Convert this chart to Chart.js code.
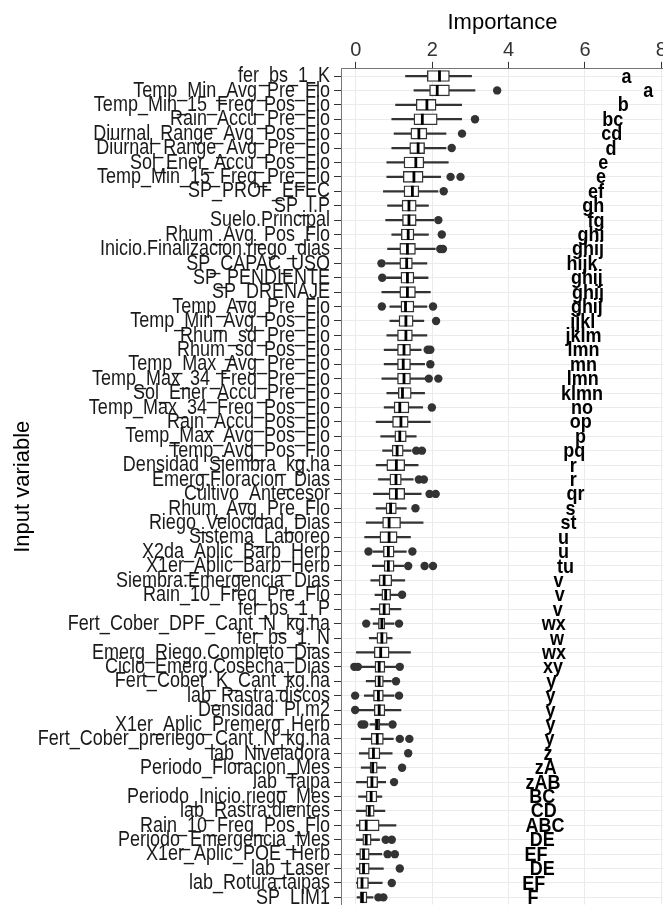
<!DOCTYPE html>
<html>
<head>
<meta charset="utf-8">
<script src="https://cdn.jsdelivr.net/npm/chart.js@4.4.1/dist/chart.umd.min.js"></script>
<style>
  html, body { margin: 0; padding: 0; background: #ffffff; overflow: hidden; }
  #wrap { width: 680px; height: 920px; }
</style>
</head>
<body>
<div id="wrap"><canvas id="chart" width="680" height="920"></canvas></div>
<script>
// Input variables, ordered by median importance (top to bottom)
const variables = [
  'fer_bs_1_K', 'Temp_Min_Avg_Pre_Flo', 'Temp_Min_15_Freq_Pos_Flo', 'Rain_Accu_Pre_Flo',
  'Diurnal_Range_Avg_Pos_Flo', 'Diurnal_Range_Avg_Pre_Flo', 'Sol_Ener_Accu_Pos_Flo',
  'Temp_Min_15_Freq_Pre_Flo', 'SP_PROF_EFEC', 'SP_I.P', 'Suelo.Principal', 'Rhum_Avg_Pos_Flo',
  'Inicio.Finalizacion.riego_dias', 'SP_CAPAC_USO', 'SP_PENDIENTE', 'SP_DRENAJE',
  'Temp_Avg_Pre_Flo', 'Temp_Min_Avg_Pos_Flo', 'Rhum_sd_Pre_Flo', 'Rhum_sd_Pos_Flo',
  'Temp_Max_Avg_Pre_Flo', 'Temp_Max_34_Freq_Pre_Flo', 'Sol_Ener_Accu_Pre_Flo',
  'Temp_Max_34_Freq_Pos_Flo', 'Rain_Accu_Pos_Flo', 'Temp_Max_Avg_Pos_Flo', 'Temp_Avg_Pos_Flo',
  'Densidad_Siembra_kg.ha', 'Emerg.Floracion_Dias', 'Cultivo_Antecesor', 'Rhum_Avg_Pre_Flo',
  'Riego_Velocidad_Dias', 'Sistema_Laboreo', 'X2da_Aplic_Barb_Herb', 'X1er_Aplic_Barb_Herb',
  'Siembra.Emergencia_Dias', 'Rain_10_Freq_Pre_Flo', 'fer_bs_1_P', 'Fert_Cober_DPF_Cant_N_kg.ha',
  'fer_bs_1_N', 'Emerg_Riego.Completo_Dias', 'Ciclo_Emerg.Cosecha_Dias', 'Fert_Cober_K_Cant_kg.ha',
  'lab_Rastra.discos', 'Densidad_Pl.m2', 'X1er_Aplic_Premerg_Herb', 'Fert_Cober_preriego_Cant_N_kg.ha',
  'lab_Niveladora', 'Periodo_Floracion_Mes', 'lab_Taipa', 'Periodo_Inicio.riego_Mes',
  'lab_Rastra.dientes', 'Rain_10_Freq_Pos_Flo', 'Periodo_Emergencia_Mes', 'X1er_Aplic_POE_Herb',
  'lab_Laser', 'lab_Rotura.taipas', 'SP_LIM1'
];

// Box-plot statistics of importance per variable
const whiskerLow = [
  1.30, 1.52, 1.04, 0.94, 1.00, 0.94, 0.81, 0.81, 0.72, 0.83, 0.78, 0.94, 0.83, 0.78, 0.80, 0.68,
  0.89, 0.89, 0.81, 0.74, 0.74, 0.68, 0.81, 0.74, 0.53, 0.65, 0.70, 0.53, 0.59, 0.46, 0.53, 0.27,
  0.23, 0.45, 0.43, 0.39, 0.50, 0.39, 0.45, 0.35, 0.00, 0.12, 0.27, 0.22, 0.05, 0.37, 0.14, 0.09,
  0.14, 0.00, 0.07, 0.00, 0.00, 0.00, 0.00, 0.00, 0.00, 0.03
];
const quartile1 = [
  1.87, 1.93, 1.58, 1.52, 1.44, 1.41, 1.26, 1.24, 1.26, 1.21, 1.22, 1.19, 1.15, 1.15, 1.18, 1.15,
  1.18, 1.13, 1.09, 1.09, 1.09, 1.09, 1.11, 1.00, 0.96, 1.02, 0.95, 0.81, 0.89, 0.87, 0.79, 0.70,
  0.63, 0.72, 0.74, 0.61, 0.68, 0.61, 0.59, 0.55, 0.48, 0.50, 0.50, 0.46, 0.48, 0.50, 0.40, 0.33,
  0.37, 0.29, 0.27, 0.26, 0.09, 0.18, 0.10, 0.09, 0.03, 0.11
];
const medians = [
  2.19, 2.13, 1.86, 1.74, 1.65, 1.63, 1.57, 1.52, 1.48, 1.39, 1.39, 1.37, 1.35, 1.33, 1.35, 1.35,
  1.30, 1.31, 1.31, 1.26, 1.24, 1.26, 1.22, 1.15, 1.18, 1.15, 1.08, 1.06, 1.05, 1.06, 0.91, 0.87,
  0.87, 0.85, 0.85, 0.74, 0.78, 0.74, 0.68, 0.68, 0.65, 0.61, 0.61, 0.59, 0.61, 0.56, 0.56, 0.46,
  0.44, 0.42, 0.40, 0.35, 0.27, 0.27, 0.20, 0.20, 0.16, 0.17
];
const quartile3 = [
  2.45, 2.45, 2.10, 2.13, 1.86, 1.80, 1.78, 1.76, 1.65, 1.58, 1.58, 1.52, 1.56, 1.48, 1.52, 1.56,
  1.52, 1.50, 1.48, 1.43, 1.43, 1.43, 1.45, 1.39, 1.37, 1.32, 1.24, 1.28, 1.19, 1.28, 1.06, 1.17,
  1.08, 1.00, 1.00, 0.94, 0.91, 0.89, 0.76, 0.82, 0.87, 0.76, 0.72, 0.72, 0.76, 0.63, 0.72, 0.63,
  0.56, 0.57, 0.55, 0.48, 0.61, 0.40, 0.35, 0.35, 0.33, 0.29
];
const whiskerHigh = [
  3.03, 3.12, 2.77, 2.77, 2.36, 2.36, 2.42, 2.22, 2.15, 1.90, 2.04, 1.90, 2.08, 1.86, 1.89, 1.95,
  1.86, 1.78, 1.86, 1.71, 1.80, 1.83, 1.80, 1.75, 1.95, 1.58, 1.45, 1.63, 1.50, 1.71, 1.32, 1.76,
  1.43, 1.32, 1.25, 1.28, 1.10, 1.18, 1.00, 0.95, 1.43, 1.04, 0.93, 1.00, 1.18, 0.85, 0.98, 0.95,
  0.78, 0.78, 0.68, 0.76, 1.05, 0.62, 0.68, 0.72, 0.69, 0.45
];
const outliers = [
  [], [3.70], [], [3.12], [2.78], [2.51], [], [2.48, 2.74], [2.30], [], [2.16], [2.25],
  [2.21, 2.28], [0.67], [0.69], [], [0.68, 2.02], [2.10], [], [1.88, 1.95], [1.95], [1.91, 2.16],
  [], [1.99], [], [], [1.58, 1.73], [], [1.65, 1.78], [1.93, 2.09], [1.56], [], [], [0.33, 1.48],
  [1.37, 1.80, 2.02], [], [1.21], [], [0.27, 1.13], [], [], [-0.04, 0.05, 1.15], [1.05],
  [-0.02, 1.13], [-0.02], [0.15, 0.22, 0.96], [1.15, 1.40], [1.37], [1.21], [1.00], [], [], [],
  [0.78, 0.94], [0.83, 1.02], [1.15], [0.94], [0.59, 0.72]
];

// Multiple-comparison groups and where their labels sit on the importance axis
const groupLetters = [
  'a', 'a', 'b', 'bc', 'cd', 'd', 'e', 'e', 'ef', 'gh', 'fg', 'ghi', 'ghij', 'hijk', 'ghij', 'ghij',
  'ghij', 'ijkl', 'jklm', 'lmn', 'mn', 'lmn', 'klmn', 'no', 'op', 'p', 'pq', 'r', 'r', 'qr', 's',
  'st', 'u', 'u', 'tu', 'v', 'v', 'v', 'wx', 'w', 'wx', 'xy', 'y', 'y', 'y', 'y', 'y', 'z', 'zA',
  'zAB', 'BC', 'CD', 'ABC', 'DE', 'EF', 'DE', 'EF', 'F'
];
const letterX = [
  7.09, 7.66, 7.00, 6.73, 6.70, 6.68, 6.48, 6.42, 6.29, 6.22, 6.29, 6.16, 6.08, 5.92, 6.05, 6.08,
  6.05, 5.94, 5.96, 5.96, 5.96, 5.94, 5.92, 5.92, 5.89, 5.88, 5.72, 5.69, 5.69, 5.75, 5.62, 5.57,
  5.44, 5.44, 5.49, 5.31, 5.34, 5.29, 5.18, 5.27, 5.19, 5.16, 5.12, 5.10, 5.10, 5.10, 5.07, 5.03,
  4.97, 4.90, 4.88, 4.92, 4.95, 4.88, 4.72, 4.88, 4.66, 4.64
];

const xTicks = [0, 2, 4, 6, 8];

const FONT = '"Liberation Sans", Arial, Helvetica, sans-serif';
const INK = '#333333';
const TICK_LEN = 7;

const whiskerData = variables.map((v, i) => [whiskerLow[i], whiskerHigh[i]]);
const boxData = variables.map((v, i) => [quartile1[i], quartile3[i]]);
const medianData = variables.map((v, i) => ({ x: medians[i], y: v }));
const outlierData = [];
outliers.forEach((list, i) => list.forEach(val => outlierData.push({ x: val, y: variables[i] })));

// Writes text with its glyphs stretched vertically around its centre line
function tallText(ctx, txt, x, y, stretch) {
  ctx.save();
  ctx.translate(x, y);
  ctx.scale(1, stretch);
  ctx.fillText(txt, 0, 0);
  ctx.restore();
}

// Tall, condensed-looking variable names beside the category ticks
const variableLabels = {
  id: 'variableLabels',
  afterDraw(chart) {
    const { ctx, scales, chartArea } = chart;
    ctx.save();
    ctx.font = '18px ' + FONT;
    ctx.fillStyle = '#1a1a1a';
    ctx.textAlign = 'right';
    ctx.textBaseline = 'middle';
    const xRight = chartArea.left - TICK_LEN - 4;
    scales.y.ticks.forEach((t, i) => {
      tallText(ctx, scales.y.getLabelForValue(t.value), xRight, scales.y.getPixelForTick(i), 1.25);
    });
    ctx.restore();
  }
};

// Significance-group letters written to the right of each box
const letterPlugin = {
  id: 'groupLetters',
  afterDatasetsDraw(chart) {
    const { ctx, scales } = chart;
    ctx.save();
    ctx.font = 'bold 18px ' + FONT;
    ctx.fillStyle = '#000000';
    ctx.textAlign = 'center';
    ctx.textBaseline = 'middle';
    groupLetters.forEach((txt, i) => {
      tallText(ctx, txt, scales.x.getPixelForValue(letterX[i]), scales.y.getPixelForValue(i) + 1, 1.12);
    });
    ctx.restore();
  }
};

new Chart(document.getElementById('chart'), {
  type: 'bar',
  data: {
    labels: variables,
    datasets: [
      {
        label: 'median',
        type: 'line',
        data: medianData,
        showLine: false,
        pointStyle: 'line',
        rotation: 90,
        pointRadius: 5.5,
        pointBorderWidth: 2.8,
        borderColor: '#000000',
        backgroundColor: '#000000',
        order: 0
      },
      {
        label: 'outliers',
        type: 'line',
        data: outlierData,
        showLine: false,
        pointStyle: 'circle',
        pointRadius: 4.2,
        pointBorderWidth: 0,
        pointBackgroundColor: INK,
        borderColor: INK,
        order: 1
      },
      {
        label: 'box',
        data: boxData,
        grouped: false,
        barThickness: 11,
        backgroundColor: '#ffffff',
        borderColor: INK,
        borderWidth: 1.4,
        borderSkipped: false,
        order: 2
      },
      {
        label: 'whisker',
        data: whiskerData,
        grouped: false,
        barThickness: 1.6,
        backgroundColor: INK,
        borderWidth: 0,
        order: 3
      }
    ]
  },
  options: {
    indexAxis: 'y',
    responsive: false,
    devicePixelRatio: 1,
    animation: false,
    events: [],
    layout: { padding: { top: 0, left: 0, right: 16, bottom: 15.4 } },
    plugins: { legend: { display: false }, tooltip: { enabled: false } },
    scales: {
      x: {
        type: 'linear',
        position: 'top',
        min: -0.39,
        max: 8.07,
        afterBuildTicks(scale) { scale.ticks = xTicks.map(v => ({ value: v })); },
        afterFit(scale) { scale.height = 68.8; },
        grid: { color: '#ebebeb', lineWidth: 1, drawTicks: true, tickLength: TICK_LEN, tickColor: INK, tickWidth: 1 },
        border: { display: true, color: '#777777', width: 1 },
        ticks: { font: { family: FONT, size: 20, lineHeight: 1 }, color: INK, padding: 1, maxRotation: 0 },
        title: {
          display: true, text: 'Importance', color: '#000000',
          font: { family: FONT, size: 22, lineHeight: 1.2 }, padding: { top: 10, bottom: 0 }
        }
      },
      y: {
        type: 'category',
        offset: true,
        afterFit(scale) { scale.width = 341; },
        grid: { color: '#ebebeb', lineWidth: 1, offset: false, drawTicks: true, tickLength: TICK_LEN, tickColor: INK, tickWidth: 1 },
        border: { display: true, color: '#777777', width: 1 },
        ticks: { display: false, autoSkip: false },
        title: {
          display: true, text: 'Input variable', color: '#000000',
          font: { family: FONT, size: 22, lineHeight: 1.2 }, padding: { top: 10, bottom: 0 }
        }
      }
    }
  },
  plugins: [letterPlugin, variableLabels]
});
</script>
</body>
</html>
